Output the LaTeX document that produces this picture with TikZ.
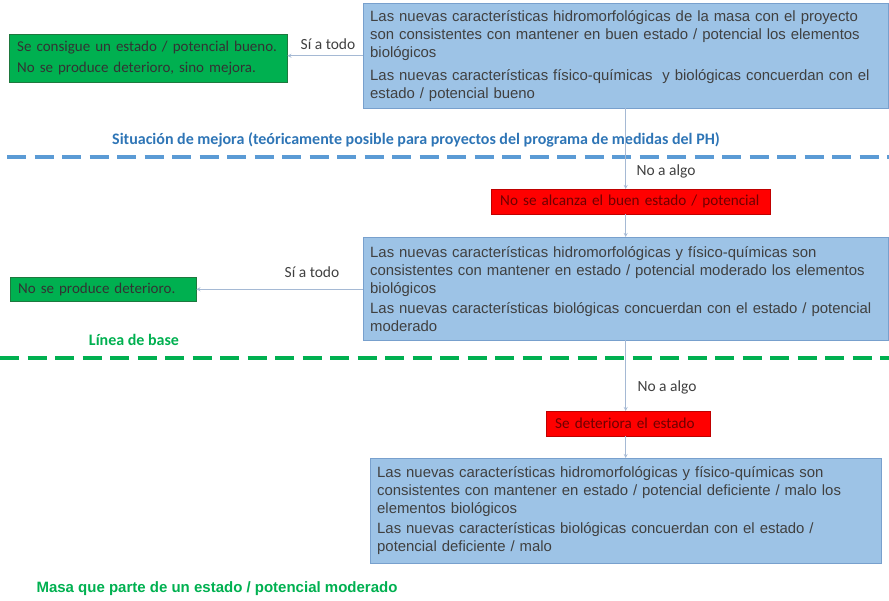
\documentclass[tikz,border=0pt]{standalone}
\usepackage{fontspec}
\setmainfont{Liberation Sans}
\newfontfamily\calibri{Carlito}
\definecolor{azulCaja}{RGB}{157,195,230}
\definecolor{azulBorde}{RGB}{120,160,205}
\definecolor{azulLinea}{RGB}{91,155,213}
\definecolor{azulTexto}{RGB}{46,117,182}
\definecolor{verdeCaja}{RGB}{0,176,80}
\definecolor{verdeBorde}{RGB}{30,120,62}
\definecolor{verdeTexto}{RGB}{0,176,80}
\definecolor{rojoCaja}{RGB}{255,0,0}
\definecolor{rojoBorde}{RGB}{192,0,0}
\definecolor{rojoTexto}{RGB}{110,0,0}
\definecolor{gris}{RGB}{64,64,64}
\definecolor{conector}{RGB}{165,185,212}
\begin{document}
\begin{tikzpicture}[
      x=1pt, y=-1pt,
      caja/.style={draw=azulBorde, fill=azulCaja, anchor=north west, align=left,
                   text=gris, inner xsep=7pt, inner ysep=0pt,
                   font=\fontsize{14.9}{18}\selectfont},
      verde/.style={draw=verdeBorde, fill=verdeCaja, anchor=north west, align=left,
                    text=black!80, inner xsep=8pt, inner ysep=0pt,
                    font=\calibri\fontsize{15}{21}\selectfont},
      rojo/.style={draw=rojoBorde, fill=rojoCaja, anchor=north west, align=left,
                   text=rojoTexto, inner xsep=9pt, inner ysep=0pt,
                   font=\calibri\fontsize{15.2}{17}\selectfont},
      cab/.style={text=gris, font=\calibri\fontsize{15.5}{17}\selectfont},
      zona/.style={font=\calibri\bfseries\fontsize{16}{18}\selectfont},
      corte/.style={line width=3.5pt, dash pattern=on 19pt off 8.5pt},
      flujo/.style={->, >=stealth, draw=conector, line width=0.8pt}
    ]
    \useasboundingbox (0,0) rectangle (889,600);

    % primer nivel
    \node[caja, text width=511pt, minimum height=105pt] (caja1) at (363,3)
      {Las nuevas características hidromorfológicas de la masa con el proyecto\\
       son consistentes con mantener en buen estado / potencial los elementos\\
       biológicos\\[5pt]
       Las nuevas características físico-químicas\ \ y biológicas concuerdan con el\\
       estado / potencial bueno};
    \node[verde, text width=262pt, minimum height=48pt] (verde1) at (9,34)
      {Se consigue un estado / potencial bueno.\\ No se produce deterioro, sino mejora.};
    \node[cab] (si1) at (328,44) {Sí a todo};
    \draw[flujo] (caja1.west) -- (caja1.west -| verde1.east);

    \node[zona, text=azulTexto] (mejora) at (416,140)
      {Situación de mejora (teóricamente posible para proyectos del programa de medidas del PH)};
    \draw[corte, azulLinea] (7,157) -- (889,157);

    % segundo nivel
    \node[rojo, text width=261pt, minimum height=25pt] (rojo1) at (491,189)
      {No se alcanza el buen estado / potencial};
    \node[cab] (no1) at (666,171) {No a algo};
    \draw[flujo] (caja1.south) -- (caja1.south |- rojo1.north);

    \node[caja, text width=511pt, minimum height=103pt] (caja2) at (363,237)
      {Las nuevas características hidromorfológicas y físico-químicas son\\
       consistentes con mantener en estado / potencial moderado los elementos\\
       biológicos\\[2pt]
       Las nuevas características biológicas concuerdan con el estado / potencial\\
       moderado};
    \draw[flujo] (rojo1.south -| caja2.north) -- (caja2.north);
    \node[verde, text width=170pt, minimum height=24pt] (verde2) at (10,277)
      {No se produce deterioro.};
    \node[cab] (si2) at (312,272) {Sí a todo};
    \draw[flujo] (verde2.east -| caja2.west) -- (verde2.east);

    \node[zona, text=verdeTexto] (base) at (134,340) {Línea de base};
    \draw[corte, verdeTexto] (0,358) -- (889,358);

    % tercer nivel
    \node[rojo, text width=146pt, minimum height=25pt] (rojo2) at (546,411)
      {Se deteriora el estado};
    \node[cab] (no2) at (667,387) {No a algo};
    \draw[flujo] (caja2.south) -- (caja2.south |- rojo2.north);

    \node[caja, text width=497pt, minimum height=105pt] (caja3) at (370,458)
      {Las nuevas características hidromorfológicas y físico-químicas son\\
       consistentes con mantener en estado / potencial deficiente / malo los\\
       elementos biológicos\\[2pt]
       Las nuevas características biológicas concuerdan con el estado /\\
       potencial deficiente / malo};
    \draw[flujo] (rojo2.south -| caja3.north) -- (caja3.north);

    \node[text=verdeTexto, font=\bfseries\fontsize{15}{17}\selectfont] (masa) at (217,589)
      {Masa que parte de un estado / potencial moderado};
  \end{tikzpicture}
\end{document}
